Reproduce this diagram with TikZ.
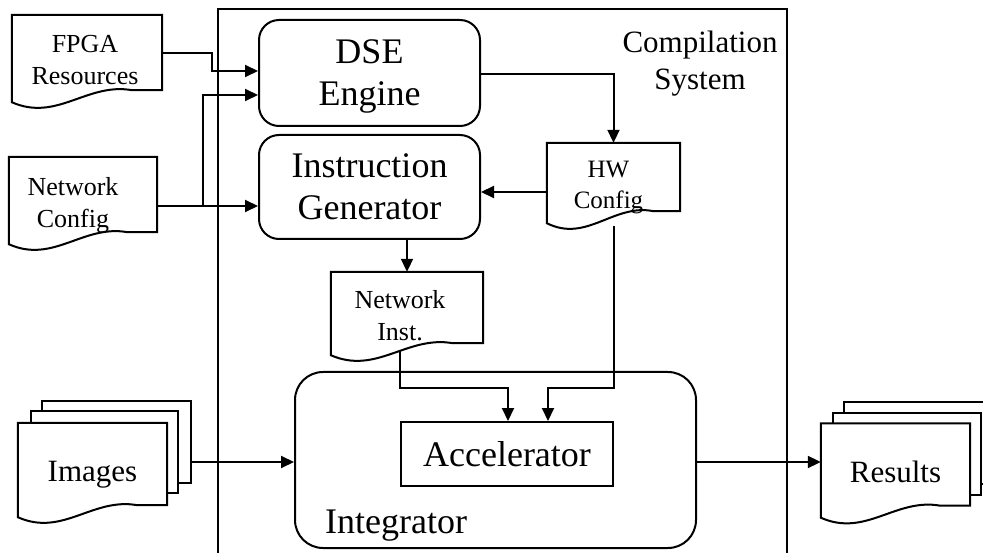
\documentclass[tikz,border=0pt]{standalone}
\usepackage{fontspec}
\setmainfont{Liberation Serif}
\usetikzlibrary{arrows.meta,calc}
\pgfdeclarelayer{wires}
\pgfdeclarelayer{sheets}
\pgfsetlayers{wires,sheets,main}

% outline of a document sheet with a wavy lower edge, fitted to node #1
\newcommand\docsheet[1]{%
  \draw[sheetline]
    ($(#1.south east)+(0,-15)$) -- (#1.north east) -- (#1.north west)
    -- ($(#1.south west)+(0,-3)$)
    .. controls ($(#1.south west)!0.3!(#1.south east)+(0,17)$)
       and ($(#1.south west)!0.5!(#1.south east)+(0,-23)$)
    .. ($(#1.south west)!0.8!(#1.south east)+(0,-15)$) -- cycle;}

\tikzset{
  sheetline/.style={line width=2pt, fill=white, line join=miter},
  doc/.style={inner sep=0pt, align=center, text depth=0pt,
    font=\fontsize{26}{32}\selectfont},
  backsheet/.style={draw, line width=2pt, fill=white, inner sep=0pt},
  block/.style={draw, line width=2pt, inner sep=0pt, align=center,
    text depth=0pt, font=\fontsize{36}{42}\selectfont},
  roundblock/.style={block, rounded corners=20pt},
  wire/.style={line width=2pt},
  arr/.style={wire, -{Triangle[length=13pt,width=12pt]}},
  bigtext/.style={inner sep=0pt, align=center, text depth=0pt}
}

\begin{document}
\begin{tikzpicture}[x=1pt,y=-1pt]
\useasboundingbox (0,0) rectangle (983,553);

% compilation system frame, open past the lower edge
\draw[line width=1.6pt] (218,560) -- (218,9) -- (787,9) -- (787,560);
\node[bigtext, font=\fontsize{31}{37}\selectfont] (cslabel) at (700,60.5) {Compilation\\System};

% processing blocks
\node[roundblock, minimum width=221pt, minimum height=106pt] (dse) at (369.5,73) {DSE\\Engine};
\node[roundblock, minimum width=221pt, minimum height=104pt] (instr) at (369.5,187) {Instruction\\Generator};
\node[block, rounded corners=28pt, minimum width=401pt, minimum height=176pt] (integ) at (495.5,460) {};
\node[block, minimum width=212pt, minimum height=64pt] (acc) at (507,454) {Accelerator};
\node[anchor=base west, inner sep=0pt, font=\fontsize{36}{42}\selectfont] (integlabel) at (325,533) {Integrator};

% documents
\node[doc, minimum width=150pt, minimum height=90pt] (fpga) at (87,60) {\hspace*{-4pt}FPGA\\\hspace*{-4pt}Resources};
\node[doc, minimum width=148pt, minimum height=90pt] (ncfg) at (83,202) {\hspace*{-20pt}Network\\\hspace*{-20pt}Config};
\node[doc, minimum width=133pt, minimum height=83pt, font=\fontsize{25}{31}\selectfont] (hw) at (613.5,184.5) {\hspace*{-10pt}HW\\\hspace*{-10pt}Config};
\node[doc, minimum width=152pt, minimum height=86pt] (ninst) at (407,315) {\hspace*{-14pt}Network\\\hspace*{-14pt}Inst.};

% stacked input and output sheets
\node[doc, minimum width=149pt, minimum height=97pt, font=\fontsize{31}{37}\selectfont] (img) at (92.5,471.5) {Images};
\node[doc, minimum width=149pt, minimum height=97pt, font=\fontsize{31}{37}\selectfont] (res) at (895.5,472) {Results};

\begin{pgfonlayer}{sheets}
  \node[backsheet, minimum width=149pt, minimum height=82pt] (img3) at (116.5,442) {};
  \node[backsheet, minimum width=147pt, minimum height=82pt] (img2) at (104.5,452) {};
  \docsheet{img}
  \node[backsheet, minimum width=149pt, minimum height=82pt] (res3) at (918.5,442.5) {};
  \node[backsheet, minimum width=148pt, minimum height=82pt] (res2) at (907,453.5) {};
  \docsheet{res}
  \docsheet{fpga}
  \docsheet{ncfg}
  \docsheet{hw}
  \docsheet{ninst}
\end{pgfonlayer}

\begin{pgfonlayer}{wires}
  \draw[arr] (fpga.east |- 0,53) -- (212,53) -- (212,71) -- (dse.west |- 0,71);
  \draw[arr] (ncfg.east |- 0,206) -- (instr.west |- 0,206);
  \draw[arr] (203,206) -- (203,95) -- (dse.west |- 0,95);
  \draw[arr] (dse.east |- 0,74) -- (hw.north |- 0,74) -- (hw.north);
  \draw[arr] (hw.west |- 0,192) -- (instr.east |- 0,192);
  \draw[arr] (ninst.north |- instr.south) -- (ninst.north);
  \draw[arr] (400,350) -- (400,388) -- (508,388) -- (acc.north -| 508,0);
  \draw[arr] (hw.south) -- (hw.south |- 0,388) -- (548,388) -- (acc.north -| 548,0);
  \draw[arr] (img3.east |- 0,462) -- (integ.west |- 0,462);
  \draw[arr] (integ.east |- 0,462) -- (res.west |- 0,462);
\end{pgfonlayer}
\end{tikzpicture}
\end{document}
